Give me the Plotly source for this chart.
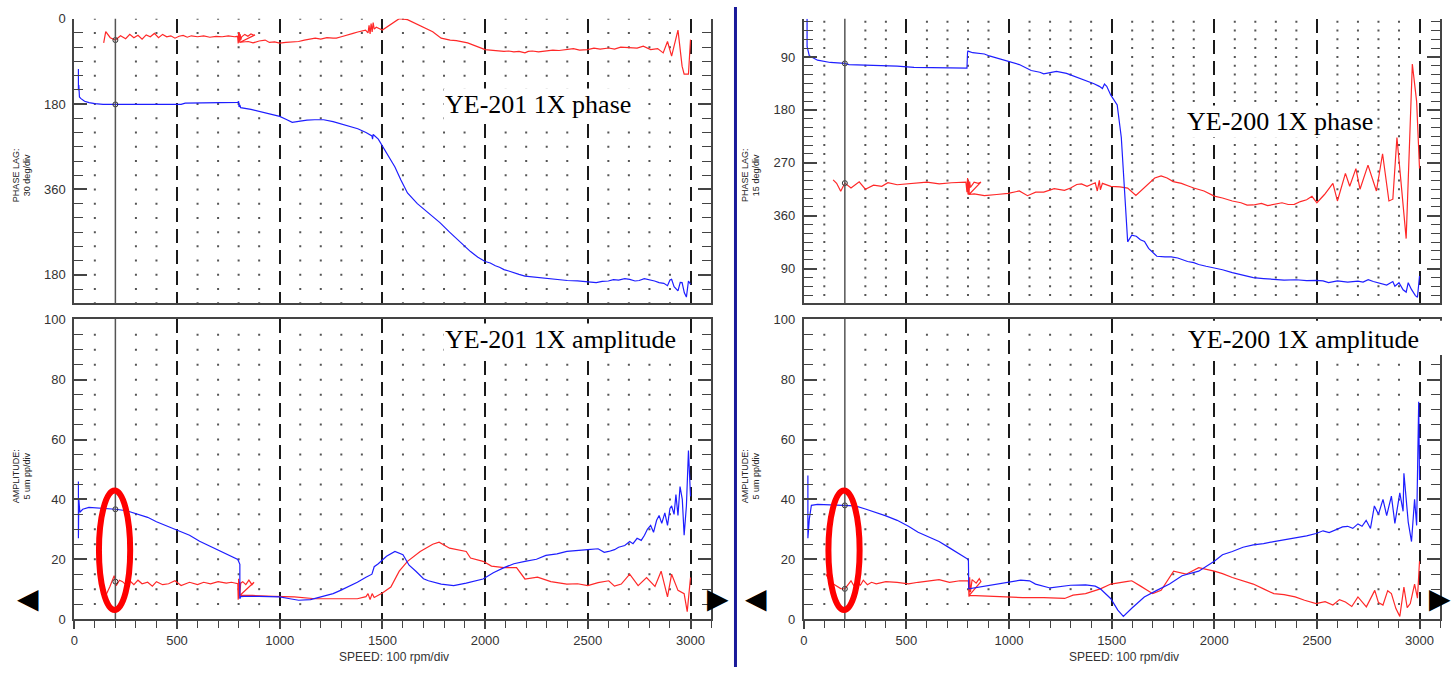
import numpy as np
import plotly.graph_objects as go

# ---------------- DATA (speed in rpm, phase lag in deg, amplitude in um pp) ----------------
ye201_phase_red = [(143, 51), (153, 27), (175, 40), (200, 45), (225, 36), (250, 42), (270, 33), (290, 40),
    (310, 35), (330, 43), (350, 34), (370, 38), (390, 31), (410, 40), (430, 33), (450, 38), (470, 36),
    (490, 41), (510, 37), (530, 35), (550, 39), (570, 36), (600, 38), (630, 36), (660, 39), (690, 37),
    (720, 38), (750, 36), (780, 38), (795, 37), (798, 52), (800, 28), (802, 50), (804, 30), (806, 48),
    (808, 33), (810, 45), (815, 38), (830, 33), (845, 37), (860, 32), (875, 35), (880, 34),
    (805, 50), (820, 49), (847, 48), (870, 51), (900, 47), (929, 45), (950, 50), (975, 49), (1000, 51.5),
    (1030, 50), (1060, 49), (1092, 48), (1120, 45), (1150, 42), (1173, 41), (1200, 43), (1230, 40),
    (1260, 41), (1276, 41), (1300, 38), (1330, 35), (1357, 31), (1380, 28), (1400, 26), (1418, 24),
    (1430, 30), (1435, 14), (1440, 32), (1445, 10), (1450, 28), (1455, 8), (1460, 22), (1470, 18),
    (1500, 24), (1540, 12), (1582, 0), (1622, 2), (1660, 10), (1684, 13.7), (1720, 22), (1745, 27.5),
    (1786, 41), (1830, 45), (1860, 46), (1888, 48), (1915, 51), (1940, 55), (1970, 60), (2000, 65),
    (2025, 66), (2050, 67), (2070, 66.5), (2092, 68.7), (2115, 68), (2140, 70), (2165, 69), (2194, 72),
    (2210, 69), (2230, 68), (2260, 70), (2296, 68.7), (2330, 66), (2360, 67), (2398, 65), (2430, 63),
    (2460, 66), (2500, 65), (2530, 62), (2560, 64), (2602, 61.7), (2630, 64), (2660, 60), (2704, 61.7),
    (2740, 62), (2770, 58), (2806, 65), (2840, 63), (2867, 72), (2888, 48), (2908, 79), (2939, 24),
    (2959, 100), (2969, 117), (2990, 117), (3000, 44)]

ye201_phase_blue = [(20, 106), (20, 151), (22, 140), (25, 165), (31, 168), (50, 174), (72, 177), (100, 179),
    (140, 180.5), (200, 180.7), (300, 180.7), (400, 180.7), (520, 180.7), (540, 178), (600, 177.5),
    (700, 177), (796, 176.5), (800, 174), (802, 186), (806, 182), (810, 187.5), (860, 191), (908, 196),
    (950, 200), (1000, 206), (1030, 212), (1061, 218.5), (1100, 216), (1133, 213.7), (1170, 213),
    (1214, 213), (1260, 217), (1300, 222), (1337, 226.7), (1380, 232), (1420, 240), (1440, 246),
    (1449, 247), (1452, 254), (1455, 244), (1480, 254), (1500, 268), (1530, 290), (1561, 312.6),
    (1590, 340), (1622, 367.5), (1670, 390), (1724, 408.8), (1780, 430), (1827, 450), (1880, 472),
    (1929, 491), (1965, 503), (2000, 512), (2025, 515), (2050, 521), (2070, 524), (2092, 529),
    (2115, 532), (2140, 536), (2165, 539), (2194, 542.7), (2225, 544), (2260, 547), (2300, 548),
    (2337, 549.6), (2370, 551), (2400, 552), (2450, 553), (2500, 555), (2541, 556.5), (2570, 554),
    (2600, 553), (2625, 550), (2650, 551), (2680, 548), (2704, 549.6), (2730, 553), (2750, 552),
    (2775, 548), (2800, 550), (2825, 553), (2847, 556.5), (2870, 558), (2888, 563), (2900, 551),
    (2908, 549.6), (2920, 565), (2939, 573.7), (2950, 556), (2959, 556.5), (2970, 578), (2980, 587),
    (2990, 553), (3000, 560)]

ye200_phase_blue = [(16, 25), (16, 72), (27, 88), (67, 95.5), (129, 99.4), (200, 101), (220, 103),
    (400, 104.5), (455, 105.5), (537, 107.7), (700, 108), (792, 108.9), (795, 108.9), (798, 81.7),
    (800, 80), (823, 82.8), (880, 85), (904, 88.3), (950, 93), (996, 96.7), (1050, 103), (1108, 113),
    (1150, 116), (1169, 118.8), (1200, 116), (1231, 114.4), (1280, 118), (1333, 124.4), (1380, 131),
    (1414, 135.5), (1440, 140), (1455, 143.8), (1465, 136), (1476, 140), (1496, 155), (1527, 171.5),
    (1547, 227), (1567, 338), (1578, 404.5), (1598, 393), (1620, 395), (1640, 401), (1660, 404),
    (1680, 415.6), (1700, 422), (1720, 429), (1760, 430), (1790, 430), (1822, 432), (1870, 438),
    (1900, 440), (1924, 443), (1960, 446), (2000, 449), (2040, 452), (2088, 457), (2140, 461),
    (2190, 465.5), (2240, 467), (2290, 468), (2340, 469.5), (2400, 469), (2450, 470.5), (2496, 470),
    (2530, 471), (2557, 474), (2600, 471), (2650, 473), (2700, 471.5), (2725, 473), (2750, 469),
    (2775, 472), (2800, 474), (2840, 478), (2870, 472), (2880, 480), (2900, 474), (2920, 486),
    (2935, 490), (2945, 474), (2960, 485), (2980, 496), (2990, 498.7), (3000, 462.7)]

ye200_phase_red = [(143, 299), (160, 305), (180, 318.5), (200, 304.6), (230, 313), (270, 302.5),
    (300, 315), (340, 308), (380, 310), (410, 304), (455, 307.4), (500, 306), (560, 305), (600, 303),
    (660, 306), (720, 304), (790, 303), (795, 320), (798, 296), (800, 324), (802, 300), (805, 325),
    (808, 302), (812, 312), (830, 303), (850, 305), (863, 303),
    (805, 324), (830, 323), (880, 326), (940, 324), (996, 322), (1050, 318), (1090, 326), (1130, 320),
    (1169, 320), (1220, 314), (1270, 317), (1300, 313), (1330, 307), (1353, 306), (1380, 310),
    (1420, 304), (1430, 318), (1440, 300), (1445, 316), (1455, 305), (1476, 307), (1496, 310),
    (1540, 311), (1578, 313), (1618, 325.7), (1650, 315), (1680, 304.6), (1710, 296), (1741, 292.4),
    (1770, 296), (1800, 302), (1840, 305), (1870, 309), (1900, 313), (1950, 318), (2000, 326.8),
    (2040, 330), (2088, 335), (2130, 338), (2160, 342), (2190, 341.8), (2230, 339), (2260, 343),
    (2290, 340.7), (2330, 338), (2360, 341), (2390, 340.7), (2420, 336), (2450, 333), (2476, 327),
    (2500, 338), (2537, 324), (2578, 305), (2600, 335), (2639, 288), (2660, 310), (2690, 280),
    (2710, 315), (2749, 274), (2790, 318), (2820, 254.7), (2851, 335), (2870, 332), (2890, 227),
    (2935, 399), (2965, 102), (2986, 166), (3000, 279.7)]

ye201_amp_blue = [(20, 46), (20, 27), (22, 40), (27, 35.7), (41, 36.7), (71, 37.3), (100, 37.2),
    (153, 37), (200, 36.7), (255, 36.2), (300, 35.3), (357, 34), (400, 32.5), (459, 30.8), (500, 29.7),
    (561, 28), (610, 26), (663, 24.2), (720, 22.5), (765, 21), (796, 19.9), (806, 18.3), (806, 6.8),
    (810, 7.5), (826, 7.6), (900, 7.6), (929, 7.6), (1000, 7.4), (1050, 6.8), (1092, 6.3), (1150, 6.5),
    (1214, 7.6), (1260, 8.5), (1296, 9.6), (1340, 11), (1378, 12.3), (1420, 14), (1449, 15),
    (1460, 17.5), (1480, 18.5), (1520, 21), (1561, 22.6), (1600, 21.5), (1630, 18), (1663, 16),
    (1700, 13.5), (1724, 12.8), (1786, 11.7), (1847, 11.2), (1908, 12), (1990, 13.4), (2040, 15.5),
    (2092, 17.2), (2140, 18.5), (2194, 19.3), (2250, 20), (2296, 21.3), (2350, 21.8), (2398, 22.6),
    (2450, 23), (2500, 23.2), (2550, 23.5), (2580, 22.3), (2602, 22.6), (2630, 23.2), (2650, 24),
    (2680, 24.6), (2704, 25.9), (2720, 25.2), (2740, 27), (2760, 26.3), (2776, 28), (2790, 30),
    (2806, 31.3), (2820, 29), (2835, 33), (2847, 34.6), (2860, 32), (2875, 35.5), (2888, 31.3),
    (2900, 37), (2908, 37.8), (2920, 35), (2929, 41.6), (2939, 34.6), (2949, 44.3), (2960, 40),
    (2969, 28), (2980, 37.8), (2990, 56.3), (3000, 41)]

ye201_amp_red = [(143, 11.2), (153, 7.9), (173, 10.8), (194, 14.5), (204, 11.2), (220, 13), (235, 12.5),
    (255, 11.2), (270, 12.8), (290, 11.5), (310, 13), (330, 11.8), (357, 12.3), (380, 11), (400, 12.5),
    (430, 11.5), (459, 11.8), (490, 12.8), (520, 11.2), (561, 12.3), (600, 11.5), (630, 12.3),
    (663, 11.8), (700, 12.5), (740, 12), (765, 12.3), (796, 11.8), (798, 6.5), (800, 13.5), (802, 7),
    (804, 12.5), (806, 8), (810, 12), (820, 12.5), (835, 11.5), (850, 13), (865, 11.5), (875, 12.3),
    (806, 7.9), (867, 7.9), (969, 7.6), (1071, 7.4), (1173, 6.8), (1276, 6.8), (1378, 6.8), (1420, 7.5),
    (1430, 8.5), (1440, 6.5), (1450, 8.5), (1460, 7.2), (1500, 8.7), (1541, 10.7), (1582, 16),
    (1622, 19.3), (1684, 22.6), (1745, 25), (1776, 25.7), (1827, 23.7), (1908, 22.6), (1929, 20.4),
    (1990, 19.3), (2031, 17.7), (2092, 17.2), (2153, 17.2), (2194, 13.4), (2255, 14), (2320, 12.5),
    (2398, 11.7), (2450, 11.8), (2500, 11.2), (2550, 12.2), (2602, 12.8), (2630, 11), (2663, 11.7),
    (2704, 15), (2745, 11.2), (2786, 13.9), (2827, 10.9), (2857, 16), (2888, 7.4), (2908, 15),
    (2939, 9.6), (2969, 8.5), (2984, 2.5), (3000, 13.9)]

ye200_amp_blue = [(20, 48), (20, 27), (27, 33.5), (37, 38), (67, 38.3), (129, 38.2), (200, 38), (251, 37.8),
    (300, 36.8), (353, 35.7), (400, 34.5), (455, 33), (510, 31), (557, 29), (610, 27.5), (659, 25.9),
    (710, 23.8), (761, 21.5), (802, 19.9), (804, 10.1), (823, 10.3), (904, 11.2), (960, 11.8),
    (1006, 12.3), (1057, 13), (1100, 12.8), (1129, 11.7), (1200, 10.4), (1270, 11.2), (1300, 11.3),
    (1373, 11.4), (1420, 11), (1445, 10.1), (1470, 8.5), (1496, 6.8), (1530, 3), (1557, 0.9),
    (1598, 3.6), (1659, 7.4), (1720, 9.6), (1782, 11.7), (1843, 14.5), (1924, 16), (2000, 19.3),
    (2040, 21.5), (2088, 22.6), (2140, 24), (2190, 24.8), (2240, 25.2), (2290, 25.9), (2340, 26.5),
    (2394, 27), (2450, 27.8), (2496, 28.6), (2530, 29.5), (2560, 28.9), (2598, 30), (2625, 30.8),
    (2650, 31), (2675, 30.3), (2700, 31.8), (2720, 31), (2740, 33), (2761, 30.3), (2780, 37.8),
    (2800, 35), (2822, 40), (2840, 34.6), (2863, 41.1), (2880, 32), (2904, 42.2), (2920, 36),
    (2924, 48.7), (2945, 32.4), (2961, 25.9), (2976, 40), (2986, 31.3), (2996, 72.6), (3000, 46.5)]

ye200_amp_red = [(108, 15), (129, 12.3), (150, 11.5), (180, 10.2), (200, 10.1), (215, 11.5), (230, 12.8),
    (245, 11), (260, 13.5), (275, 11.2), (290, 13), (310, 11.5), (330, 12.3), (353, 11.8), (400, 12.5),
    (455, 12.3), (510, 11.8), (557, 12.3), (610, 12.8), (659, 13.2), (710, 12.3), (760, 12.8),
    (802, 12.8), (805, 7.5), (808, 14), (812, 9), (820, 13.2), (840, 12), (855, 13.5), (863, 12.5),
    (806, 7.9), (863, 7.7), (965, 7.4), (1067, 7.2), (1169, 7.2), (1271, 6.9), (1312, 8), (1373, 8.5),
    (1445, 10.1), (1496, 11.7), (1578, 12.6), (1598, 12.8), (1639, 11.1), (1700, 8.5), (1741, 9.6),
    (1802, 16), (1863, 15), (1924, 17.2), (2000, 16), (2040, 15.2), (2088, 13.9), (2140, 12.8),
    (2190, 11.7), (2240, 10.1), (2290, 8.5), (2340, 8.2), (2394, 7.4), (2440, 6.3), (2496, 5.2),
    (2540, 5.8), (2578, 4.7), (2610, 6.5), (2639, 5.7), (2670, 4.2), (2700, 7.4), (2741, 4.1),
    (2782, 9.6), (2800, 5.5), (2822, 4.7), (2845, 9.5), (2863, 8.5), (2885, 3.5), (2904, 0.9),
    (2924, 10.7), (2940, 3.8), (2955, 5.2), (2976, 11.7), (2990, 7), (3000, 19.3)]

speed_ticks = [0, 500, 1000, 1500, 2000, 2500, 3000]
left_phase_tickvals = [0, 180, 360, 540]
left_phase_ticktext = ["0", "180", "360", "180"]
right_phase_tickvals = [90, 180, 270, 360, 450]
right_phase_ticktext = ["90", "180", "270", "360", "90"]
amp_ticks = [0, 20, 40, 60, 80, 100]
cursor_rpm = 200

# ---------------- FIGURE ----------------
W, H = 1453, 675
RED = "rgb(255,40,40)"
BLUE = "rgb(30,30,255)"
AXC = "#444444"
TICKFONT = dict(family="Liberation Sans, Arial", size=13, color="#333333")

fig = go.Figure()

panels = {
    1: dict(kind="phase_l", ydom=[1 - 303 / H, 1 - 12 / H], xdom=[70.5 / W, 709 / W]),
    2: dict(kind="amp", ydom=[1 - 626 / H, 1 - 319 / H], xdom=[70.5 / W, 709 / W]),
    3: dict(kind="phase_r", ydom=[1 - 303 / H, 1 - 12 / H], xdom=[802 / W, 1440 / W]),
    4: dict(kind="amp", ydom=[1 - 626 / H, 1 - 319 / H], xdom=[802 / W, 1440 / W]),
}

def axname(i, a):
    return a if i == 1 else f"{a}{i}"

def refname(i, a):
    return a if i == 1 else f"{a}{i}"

# dotted grid points (at 100 rpm columns, minor tick rows)
for i, p in panels.items():
    if p["kind"] == "phase_l":
        rows = np.arange(0, 600 + 1, 30)
    elif p["kind"] == "phase_r":
        rows = np.arange(30, 510, 15)
    else:
        rows = np.arange(5, 100, 5)
    cols = [c for c in range(100, 3001, 100) if c % 500 != 0 and c != cursor_rpm]
    gx, gy = np.meshgrid(cols, rows)
    fig.add_trace(go.Scatter(x=gx.ravel(), y=gy.ravel(), mode="markers",
                             marker=dict(symbol="square", size=2, color="#555555"),
                             xaxis=refname(i, "x"), yaxis=refname(i, "y"), hoverinfo="skip"))

series = {
    1: [ye201_phase_red, ye201_phase_blue],
    2: [ye201_amp_red, ye201_amp_blue],
    3: [ye200_phase_red, ye200_phase_blue],
    4: [ye200_amp_red, ye200_amp_blue],
}
for i, (red, blue) in series.items():
    for data, col in ((red, RED), (blue, BLUE)):
        xs = [d[0] for d in data]
        ys = [d[1] for d in data]
        fig.add_trace(go.Scatter(x=xs, y=ys, mode="lines", line=dict(color=col, width=1.2),
                                 xaxis=refname(i, "x"), yaxis=refname(i, "y"), hoverinfo="skip"))
    cy = []
    for data in (red, blue):
        first = [d for d in data if d[0] <= 790]
        cy.append(float(np.interp(cursor_rpm, [d[0] for d in first], [d[1] for d in first])))
    fig.add_trace(go.Scatter(x=[cursor_rpm, cursor_rpm], y=cy, mode="markers",
                             marker=dict(symbol="circle-open", size=5, color="#333333", line=dict(width=1)),
                             xaxis=refname(i, "x"), yaxis=refname(i, "y"), hoverinfo="skip"))

layout = dict(width=W, height=H, margin=dict(l=0, r=0, t=0, b=0), showlegend=False,
              plot_bgcolor="white", paper_bgcolor="white")

for i, p in panels.items():
    top = p["kind"] != "amp"
    xa = dict(domain=p["xdom"], range=[0, 3100], anchor=refname(i, "y"), showline=True,
              linecolor=AXC, linewidth=2, zeroline=False,
              showgrid=True, tickmode="array", tickvals=speed_ticks,
              gridcolor="#1a1a1a", gridwidth=1.5, griddash="14px,7px",
              tickfont=TICKFONT)
    if top:
        xa.update(showticklabels=False, ticks="", mirror=False)
    else:
        xa.update(ticks="outside", ticklen=8, tickcolor=AXC, tickwidth=1.5, mirror=True,
                  minor=dict(tickmode="linear", tick0=0, dtick=100, ticks="outside", ticklen=7,
                             tickcolor=AXC, tickwidth=1.2, showgrid=False))
    ya = dict(domain=p["ydom"], anchor=refname(i, "x"), showline=True, linecolor=AXC, linewidth=2,
              mirror="ticks", zeroline=False, showgrid=False, ticks="inside", ticklen=13,
              tickcolor=AXC, tickwidth=1.6, tickfont=TICKFONT, ticklabelstandoff=4)
    if p["kind"] == "phase_l":
        ya.update(range=[600, 0], tickmode="array", tickvals=left_phase_tickvals,
                  ticktext=left_phase_ticktext,
                  minor=dict(tickmode="linear", tick0=0, dtick=30, ticks="inside", ticklen=9,
                             tickcolor=AXC, tickwidth=1.4, showgrid=False))
    elif p["kind"] == "phase_r":
        ya.update(range=[509, 25], tickmode="array", tickvals=right_phase_tickvals,
                  ticktext=right_phase_ticktext,
                  minor=dict(tickmode="linear", tick0=0, dtick=15, ticks="inside", ticklen=9,
                             tickcolor=AXC, tickwidth=1.4, showgrid=False))
    else:
        ya.update(range=[0, 100.3], tickmode="array", tickvals=amp_ticks,
                  minor=dict(tickmode="linear", tick0=0, dtick=5, ticks="inside", ticklen=9,
                             tickcolor=AXC, tickwidth=1.4, showgrid=False))
    layout[axname(i, "xaxis")] = xa
    layout[axname(i, "yaxis")] = ya

shapes = []
for i in panels:
    shapes.append(dict(type="line", xref=refname(i, "x"), yref=f"{refname(i, 'y')} domain",
                       x0=cursor_rpm, x1=cursor_rpm, y0=0, y1=1,
                       line=dict(color="#555555", width=1.5), layer="above"))
for i in (2, 4):
    shapes.append(dict(type="circle", xref=refname(i, "x"), yref=refname(i, "y"),
                       x0=120, x1=272, y0=3, y1=43, line=dict(color="#ff0000", width=6), layer="above"))
shapes.append(dict(type="line", xref="paper", yref="paper", x0=733.5 / W, x1=733.5 / W, y0=0, y1=1,
                   line=dict(color="#1a1a9a", width=3)))
shapes.append(dict(type="rect", xref="paper", yref="paper", x0=1180 / W, x1=1446 / W,
                   y0=1 - 356 / H, y1=1 - 321 / H, fillcolor="white", line=dict(width=0), layer="above"))
layout["shapes"] = shapes

ann = []
serif = dict(family="Liberation Serif, Times New Roman", size=26, color="black")
for t, xp, yp in (("YE-201 1X phase", 535, 100), ("YE-201 1X amplitude", 558, 340),
                  ("YE-200 1X phase", 1280, 117), ("YE-200 1X amplitude", 1303, 340)):
    ann.append(dict(text=t, x=xp / W, y=1 - yp / H, xref="paper", yref="paper", showarrow=False,
                    font=serif, xanchor="center", yanchor="middle", bgcolor="white", borderpad=1))
small = dict(family="Liberation Sans, Arial", size=9, color="#222222")
for xp, yp, t in ((18, 172, "PHASE LAG:<br>30 deg/div"), (18, 480, "AMPLITUDE:<br>5 um pp/div"),
                  (749, 172, "PHASE LAG:<br>15 deg/div"), (749, 480, "AMPLITUDE:<br>5 um pp/div")):
    ann.append(dict(text=t, x=xp / W, y=1 - yp / H, xref="paper", yref="paper", showarrow=False,
                    font=small, textangle=-90, xanchor="center", yanchor="middle"))
for xp in (391, 1123):
    ann.append(dict(text="SPEED: 100 rpm/div", x=xp / W, y=1 - 665 / H, xref="paper", yref="paper",
                    showarrow=False, font=dict(family="Liberation Sans, Arial", size=12, color="#333333"),
                    xanchor="center", yanchor="middle"))
arrowfont = dict(family="DejaVu Sans", size=28, color="black")
for xp, t in ((24, "◀"), (716, "▶"), (754, "◀"), (1440, "▶")):
    ann.append(dict(text=t, x=xp / W, y=1 - 605 / H, xref="paper", yref="paper", showarrow=False,
                    font=arrowfont, xanchor="center", yanchor="middle"))
layout["annotations"] = ann

fig.update_layout(**layout)
fig.write_html("out.html")
